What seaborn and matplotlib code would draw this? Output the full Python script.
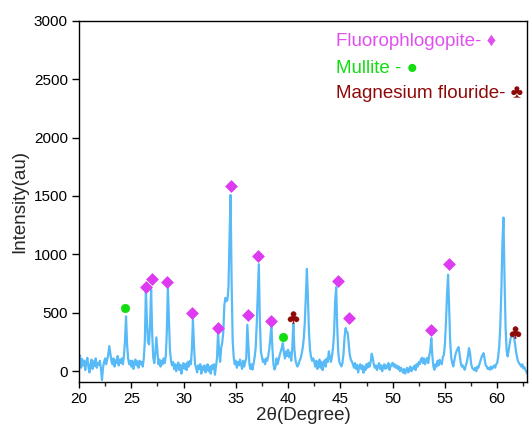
import numpy as np
import pandas as pd
import matplotlib
matplotlib.use("Agg")
import matplotlib.pyplot as plt
import seaborn as sns

# 2-theta scan, 0.1 degree step from 20.0 to 62.9
two_theta = np.round(np.arange(20.0, 62.95, 0.1), 1)

# measured intensity (au), one row per degree
intensity = [
    70, 135, 30, 105, 50, 90, 10, 75, 115, 40,          # 20
    -10, 60, 100, 20, 85, 45, 110, 30, 70, 55,          # 21
    90, 20, -75, 30, 80, 110, 60, 100, 140, 215,        # 22
    150, 90, 60, 110, 40, 95, 70, 130, 50, 100,         # 23
    70, 110, 60, 130, 260, 470, 230, 110, 60, 90,       # 24
    40, 90, 20, 70, 100, 50, 85, 30, 90, 60,            # 25
    80, 40, 110, 260, 697, 430, 250, 230, 400, 703,     # 26
    330, 120, 70, 150, 290, 180, 60, 100, 40, 90,       # 27
    60, 110, 70, 130, 330, 716, 450, 180, 90, 50,       # 28
    80, 20, 60, 0, 50, 75, 10, 55, -20, 40,             # 29
    70, 20, 60, 10, 80, 40, 90, 60, 190, 440,           # 30
    220, 60, 30, -10, 50, 20, 60, -20, 40, 10,          # 31
    50, -10, 30, 60, 0, 40, -20, 50, 20, 60,            # 32
    -30, 40, 110, 329, 170, 80, 200, 243, 330, 560,     # 33
    628, 600, 610, 720, 1150, 1508, 760, 260, 120, 60,  # 34
    90, 30, 80, 50, 100, 60, 20, 90, 40, 80,            # 35
    110, 397, 230, 60, 20, 60, 15, 70, 120, 200,        # 36
    400, 650, 916, 430, 170, 120, 80, 100, 60, 110,     # 37
    90, 130, 190, 280, 397, 200, 60, 15, 40, 110,       # 38
    60, 100, 140, 170, 200, 241, 160, 110, 170, 130,    # 39
    184, 120, 160, 90, 200, 406, 190, 100, 60, 40,      # 40
    60, 90, 110, 150, 200, 280, 420, 650, 876, 620,     # 41
    330, 180, 120, 90, 110, 84, 40, 90, 20, 70,         # 42
    100, 30, 80, 10, 60, 95, 40, 110, 80, 170,          # 43
    120, 80, 130, 200, 330, 600, 720, 380, 160, 80,     # 44
    60, 41, 70, 150, 290, 369, 340, 329, 230, 140,      # 45
    100, 84, 60, 30, 70, 20, 55, -10, 40, 60,           # 46
    20, 50, -13, 40, 10, 60, 30, 72, 40, 80,            # 47
    150, 110, 60, 30, 50, 10, 40, 70, 20, 50,           # 48
    0, 40, 60, 20, 50, 30, 70, 10, 40, 60,              # 49
    72, 40, 60, 30, 50, 20, 40, 0, 30, 10,              # 50
    -13, 20, -20, 10, 30, -10, 20, 40, 0, 30,           # 51
    20, 50, 10, 60, 40, 80, 60, 100, 115, 70,           # 52
    110, 60, 90, 115, 70, 130, 180, 283, 130, 40,       # 53
    13, 60, 40, 90, 50, 98, 70, 60, 120, 140,           # 54
    230, 420, 650, 825, 560, 260, 120, 70, 41, 90,      # 55
    140, 170, 190, 207, 150, 80, 40, 50, 30, 13,        # 56
    50, 80, 130, 198, 160, 70, 30, 20, 10, 30,          # 57
    0, 40, 30, 60, 90, 120, 140, 155, 100, 50,          # 58
    41, 20, 30, 13, 40, 20, 35, 50, 30, 60,             # 59
    70, 127, 220, 400, 700, 1100, 1315, 800, 380, 180,  # 60
    127, 180, 240, 290, 300, 312, 295, 240, 170, 120,   # 61
    84, 70, 55, 40, 60, 25, 35, 13, -5, -25,            # 62
]

# phase identification marks (peak position, marker height)
fluorophlogopite_2t = [26.41, 26.95, 28.42, 30.83, 33.28, 34.55, 36.19, 37.1, 38.37, 44.78, 45.82, 53.68, 55.38]
fluorophlogopite_y = [724, 788, 768, 495, 369, 1588, 478, 985, 432, 775, 457, 353, 919]
mullite_2t = [24.43, 39.52]
mullite_y = [543, 297]
mgf2_2t = [40.48, 61.66]
mgf2_y = [468, 332]

LINE = "#58BBF7"
MAGENTA = "#DD3AF2"
GREEN = "#11DD11"
DARKRED = "#8E0A0A"

sns.set_style("ticks")
plt.rcParams["font.family"] = ["Liberation Sans", "DejaVu Sans"]

fig = plt.figure(figsize=(5.29, 4.30), dpi=100)
ax = fig.add_axes([0.1493, 0.1116, 0.8469, 0.8403])

scan = pd.DataFrame({"two_theta": two_theta, "intensity": intensity})
sns.lineplot(data=scan, x="two_theta", y="intensity", ax=ax, color=LINE,
             linewidth=1.6, estimator=None, sort=False)

sns.scatterplot(x=fluorophlogopite_2t, y=fluorophlogopite_y, ax=ax, marker="D",
                s=36, color=MAGENTA, edgecolor=MAGENTA, linewidth=0.5, zorder=3)
sns.scatterplot(x=mullite_2t, y=mullite_y, ax=ax, marker="o",
                s=36, color=GREEN, edgecolor=GREEN, linewidth=0.5, zorder=3)
sns.scatterplot(x=mgf2_2t, y=mgf2_y, ax=ax, marker="$\u2663$",
                s=75, color=DARKRED, edgecolor=DARKRED, linewidth=0.3, zorder=3)

ax.set_xlim(20, 62.85)
ax.set_ylim(-92, 3000)
ax.set_xticks([20, 25, 30, 35, 40, 45, 50, 55, 60])
ax.set_xticks(np.arange(22.5, 62.6, 5), minor=True)
ax.set_yticks([0, 500, 1000, 1500, 2000, 2500, 3000])

for side in ["top", "right", "bottom", "left"]:
    ax.spines[side].set_visible(True)
    ax.spines[side].set_color("black")
    ax.spines[side].set_linewidth(1.0)

ax.tick_params(axis="both", which="major", direction="out", length=5,
               width=1.0, labelsize=11, color="black", labelcolor="black")
ax.tick_params(axis="x", which="major", length=4, pad=3)
ax.tick_params(axis="x", which="minor", direction="out", length=3, width=1.0)
ax.tick_params(axis="y", pad=3)

ax.set_xlabel("2\u03b8(Degree)", fontsize=13.5, labelpad=1)
ax.set_ylabel("Intensity(au)", fontsize=13.5, labelpad=4)

ax.text(0.573, 0.943, "Fluorophlogopite- \u2666", transform=ax.transAxes,
        fontsize=13.5, color="#E050F0", va="center", ha="left")
ax.text(0.573, 0.869, "Mullite - \u25cf", transform=ax.transAxes,
        fontsize=13.5, color=GREEN, va="center", ha="left")
ax.text(0.573, 0.798, "Magnesium flouride- \u2663", transform=ax.transAxes,
        fontsize=13.5, color=DARKRED, va="center", ha="left")

fig.savefig("out.png", dpi=100)
